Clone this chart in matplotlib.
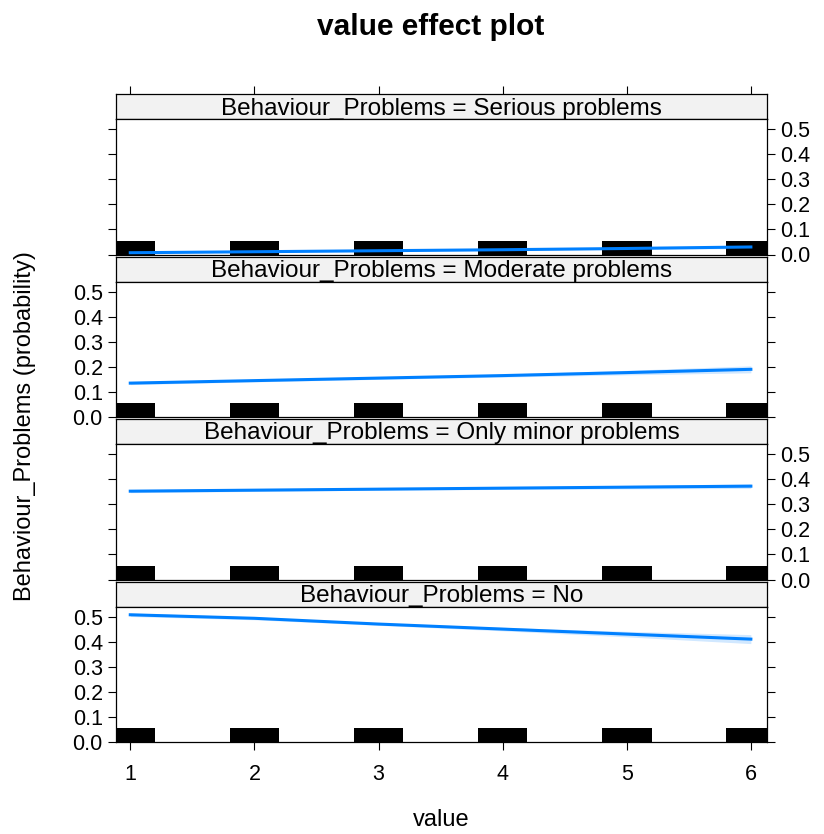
"""Effect plot of value on Behaviour_Problems probabilities (lattice style)."""

import matplotlib
matplotlib.use("Agg")
import matplotlib.pyplot as plt
from matplotlib.patches import Rectangle

plt.rcParams["font.family"] = ["Liberation Sans", "DejaVu Sans"]

# data
x_values = [1, 2, 3, 4, 5, 6]
levels = ["Serious problems", "Moderate problems", "Only minor problems", "No"]
fit = {
    "Serious problems": [0.007, 0.011, 0.015, 0.019, 0.024, 0.030],
    "Moderate problems": [0.135, 0.145, 0.155, 0.165, 0.177, 0.190],
    "Only minor problems": [0.352, 0.356, 0.360, 0.364, 0.368, 0.372],
    "No": [0.507, 0.493, 0.470, 0.450, 0.430, 0.410],
}
halfwidth = {
    "Serious problems": [0.002, 0.002, 0.002, 0.003, 0.004, 0.006],
    "Moderate problems": [0.006, 0.005, 0.005, 0.006, 0.009, 0.014],
    "Only minor problems": [0.006, 0.005, 0.004, 0.005, 0.007, 0.009],
    "No": [0.007, 0.006, 0.005, 0.007, 0.011, 0.018],
}
y_ticks = [0.0, 0.1, 0.2, 0.3, 0.4, 0.5]
rug_height = 0.055
rug_width = 0.4

W, H = 824, 834
fig = plt.figure(figsize=(W / 100, H / 100), dpi=100)

left, right = 116, 767
strip_top0, strip_h, plot_h, pitch = 94, 25, 135.5, 162.5
xlim = (0.885, 6.13)
ylim = (0.0, 0.54)
line_col = "#0080ff"
tick_fs = 15.5
strip_fs = 17.5
label_fs = 17


def fig_rect(x0, y0, w, h):
    return [x0 / W, 1 - (y0 + h) / H, w / W, h / H]


for i, level in enumerate(levels):
    st = strip_top0 + i * pitch
    sax = fig.add_axes(fig_rect(left, st, right - left, strip_h))
    sax.set_facecolor("#f2f2f2")
    sax.set_xlim(*xlim)
    sax.set_ylim(0, 1)
    sax.set_yticks([])
    sax.text(0.5, 0.42, f"Behaviour_Problems = {level}", transform=sax.transAxes,
             ha="center", va="center", fontsize=strip_fs)
    if i == 0:
        sax.xaxis.tick_top()
        sax.set_xticks(x_values)
        sax.tick_params(axis="x", direction="out", length=6, labeltop=False)
    else:
        sax.set_xticks([])

    ax = fig.add_axes(fig_rect(left, st + strip_h, right - left, plot_h))
    ax.set_xlim(*xlim)
    ax.set_ylim(*ylim)
    lo = [f - h for f, h in zip(fit[level], halfwidth[level])]
    hi = [f + h for f, h in zip(fit[level], halfwidth[level])]
    ax.fill_between(x_values, lo, hi, color=line_col, alpha=0.18, lw=0)
    ax.plot(x_values, fit[level], color=line_col, lw=2.2)
    for xv in x_values:
        ax.add_patch(Rectangle((xv - rug_width / 2, 0), rug_width, rug_height,
                               color="black", lw=0))
    ax.set_yticks(y_ticks)
    ax.set_yticklabels([f"{t:.1f}" for t in y_ticks])
    labels_right = i % 2 == 0
    ax.tick_params(axis="y", direction="out", length=6, left=True, right=True,
                   labelleft=not labels_right, labelright=labels_right,
                   labelsize=tick_fs)
    if i == len(levels) - 1:
        ax.set_xticks(x_values)
        ax.tick_params(axis="x", direction="out", length=6, labelsize=tick_fs,
                       pad=10)
    else:
        ax.set_xticks([])
    for a in (ax, sax):
        for sp in a.spines.values():
            sp.set_linewidth(0.9)

fig.text(25 / W, 1 - 426 / H, "Behaviour_Problems (probability)", rotation=90,
         ha="center", va="center", fontsize=label_fs)
fig.text(441 / W, 1 - 820 / H, "value", ha="center", va="center",
         fontsize=label_fs)
fig.text(431 / W, 1 - 27 / H, "value effect plot", ha="center", va="center",
         fontsize=21.5, fontweight="bold")

fig.savefig("out.png", dpi=100)
